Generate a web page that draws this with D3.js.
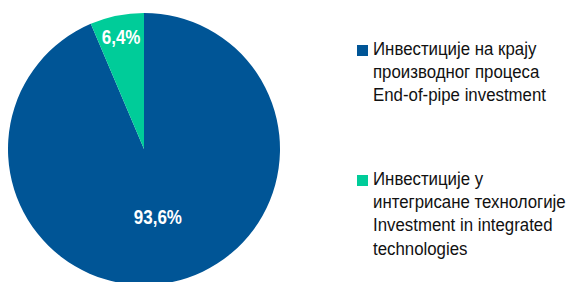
<!DOCTYPE html>
<html>
<head>
    <meta charset="utf-8">
    <title>Investments pie</title>
    <script src="https://cdn.jsdelivr.net/npm/d3@7"></script>
    <style>
    body { margin: 0; background: #fff; }
    .label { font-family: "Liberation Sans", Arial, sans-serif; font-weight: bold; fill: #fff; font-size: 21px; }
    .legend text { font-family: "Liberation Sans", Arial, sans-serif; font-size: 18.5px; fill: #111; }
    </style>
</head>
<body>
<script>
  var categories = ['end', 'integrated'];
  var values = [93.6, 6.4];
  var valueLabels = ['93,6%', '6,4%'];
  var colors = ['#005596', '#00CC99'];
  var legendLines = [
      ['Инвестиције на крају', 'производног процеса', 'End-of-pipe investment'],
      ['Инвестиције у', 'интегрисане технологије', 'Investment in integrated', 'technologies']
  ];

  var width = 576, height = 282;
  var cx = 144, cy = 149, r = 136;
  // no narrow font installed, so squeeze the text horizontally
  var narrow = 0.91, narrowBold = 0.81;

  var svg = d3.select('body').append('svg')
      .attr('width', width)
      .attr('height', height);

  // small slice sits just before 12 o'clock, the big one takes the rest
  var offset = -values[1] / 100 * 2 * Math.PI;
  var pie = d3.pie().sort(null)
      .startAngle(offset)
      .endAngle(2 * Math.PI + offset);
  var arcs = pie([values[1], values[0]]);
  var slices = [
      { arc: arcs[1], i: 0 },
      { arc: arcs[0], i: 1 }
  ];

  var arc = d3.arc().innerRadius(0).outerRadius(r);

  var g = svg.append('g').attr('transform', 'translate(' + cx + ',' + cy + ')');

  g.selectAll('path.slice')
      .data(slices)
      .enter().append('path')
      .attr('class', 'slice')
      .attr('d', function(d) { return arc(d.arc); })
      .attr('fill', function(d) { return colors[d.i]; });

  var labelRadius = [0.51, 0.843];
  g.selectAll('text.label')
      .data(slices)
      .enter().append('text')
      .attr('class', 'label')
      .attr('text-anchor', 'middle')
      .attr('dy', '0.35em')
      .attr('transform', function(d) {
          var lr = r * labelRadius[d.i];
          var c = d3.arc().innerRadius(lr).outerRadius(lr).centroid(d.arc);
          return 'translate(' + c[0] + ',' + c[1] + ') scale(' + narrowBold + ',1)';
      })
      .text(function(d) { return valueLabels[d.i]; });

  var legendY = [45, 175];
  var lineH = 23.3;
  var legend = svg.append('g').attr('class', 'legend');
  categories.forEach(function(c, i) {
      var lg = legend.append('g').attr('transform', 'translate(357,' + legendY[i] + ')');
      lg.append('rect')
          .attr('width', 11).attr('height', 11)
          .attr('fill', colors[i]);
      var t = lg.append('text')
          .attr('transform', 'translate(16,9.7) scale(' + narrow + ',1)');
      legendLines[i].forEach(function(line, k) {
          t.append('tspan')
              .attr('x', 0)
              .attr('y', k * lineH)
              .text(line);
      });
  });
</script>
</body>
</html>
